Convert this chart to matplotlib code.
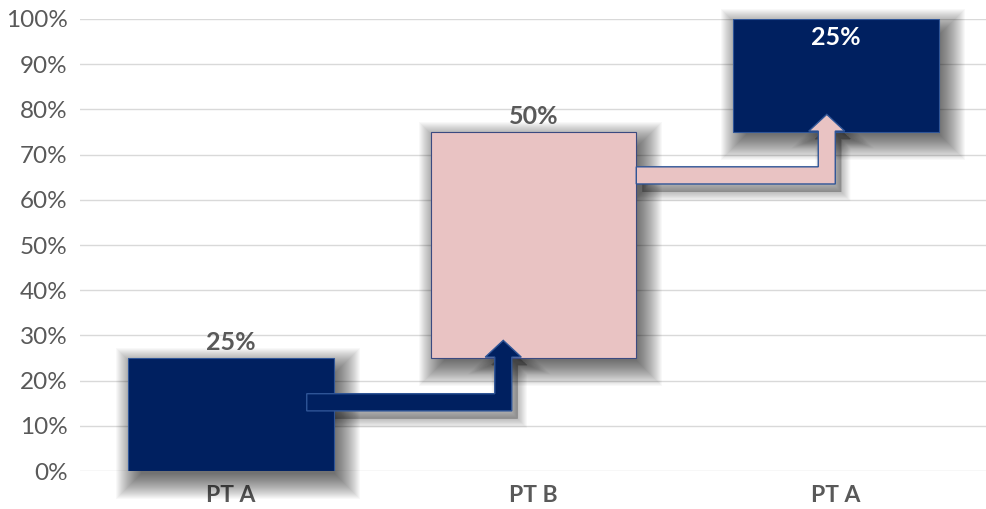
import numpy as np
import matplotlib.pyplot as plt
from matplotlib.patches import Rectangle, Polygon

# waterfall data (percent)
categories = ['PT A', 'PT B', 'PT A']
bottoms = [0, 25, 75]
heights = [25, 50, 25]
value_labels = ['25%', '50%', '25%']
bar_colors = ['#002060', '#E9C3C3', '#002060']
label_colors = ['#595959', '#595959', '#FFFFFF']

# bent connector arrows: tail x, level of horizontal shaft, x where it turns up
arrow_tail = [0.25, 1.34]
arrow_level = [15.2, 65.4]
arrow_turn = [0.9, 1.97]
arrow_colors = ['#002060', '#E9C3C3']

plt.rcParams['font.family'] = ['Lato', 'DejaVu Sans']

fig = plt.figure(figsize=(9.87, 5.09), dpi=100)
ax = fig.add_axes([80 / 987, 38 / 509, 907 / 987, 452 / 509])
ax.set_xlim(-0.5, 2.5)
ax.set_ylim(0, 100)

width = 0.68
px_x = 3.0 / 907   # data units per pixel
px_y = 100 / 452


def shadow(x0, y0, w, h, z):
    # soft drop shadow, built from stacked transparent rectangles
    dx, dy = 7 * px_x, -9 * px_y
    for i in range(26):
        e = i * 1.0 - 6
        ex, ey = e * px_x, e * px_y
        ax.add_patch(Rectangle((x0 + dx - ex, y0 + dy - ey), w + 2 * ex, h + 2 * ey,
                               facecolor='black', edgecolor='none', alpha=0.028,
                               zorder=z, clip_on=False))


for i in range(len(categories)):
    x0 = i - width / 2
    shadow(x0, bottoms[i], width, heights[i], 1)

# arrow shadows and arrows
shaft = 3.8  # percent, vertical thickness of the horizontal shaft
hw = 8.5 * px_x
hh = 18 * px_x
arrow_polys = []
for k in range(2):
    xt, yc, xc = arrow_tail[k], arrow_level[k], arrow_turn[k]
    ylo, yhi = yc - shaft / 2, yc + shaft / 2
    yb = bottoms[k + 1] + 0.2
    ytip = yb + 3.7
    pts = [(xt, ylo), (xc + hw, ylo), (xc + hw, yb), (xc + hh, yb), (xc, ytip),
           (xc - hh, yb), (xc - hw, yb), (xc - hw, yhi), (xt, yhi)]
    arrow_polys.append(pts)
    for i in range(12):
        off = np.array([6 * px_x, -8 * px_y])
        ax.add_patch(Polygon(np.array(pts) + off, closed=True, facecolor='black',
                             edgecolor='black', linewidth=i * 1.2, alpha=0.025,
                             zorder=2))

bars = ax.bar(range(len(categories)), heights, width, bottom=bottoms,
              color=bar_colors, edgecolor=['#2F5597', '#3B4A80', '#2F5597'],
              linewidth=0.8, zorder=3)

for k in range(2):
    ax.add_patch(Polygon(arrow_polys[k], closed=True, facecolor=arrow_colors[k],
                         edgecolor='#2F5597', linewidth=1.0, zorder=4))

for i in range(len(categories)):
    top = bottoms[i] + heights[i]
    y = top + 3.5 if i < 2 else top - 4.2
    ax.text(i, y, value_labels[i], ha='center', va='center', fontsize=18,
            fontweight='bold', color=label_colors[i], zorder=5)

ax.set_yticks(np.arange(0, 101, 10))
ax.set_yticklabels([f'{v}%' for v in range(0, 101, 10)], fontsize=17.5, color='#595959')
ax.set_xticks(range(len(categories)))
ax.set_xticklabels(categories, fontsize=16.5, fontweight='bold', color='#595959')
ax.tick_params(length=0)
ax.tick_params(axis='y', pad=9)
ax.tick_params(axis='x', pad=10)
ax.grid(axis='y', color='#D9D9D9', linewidth=1, zorder=0)
ax.set_axisbelow(True)
for s in ax.spines.values():
    s.set_visible(False)

fig.savefig('out.png', dpi=100)
